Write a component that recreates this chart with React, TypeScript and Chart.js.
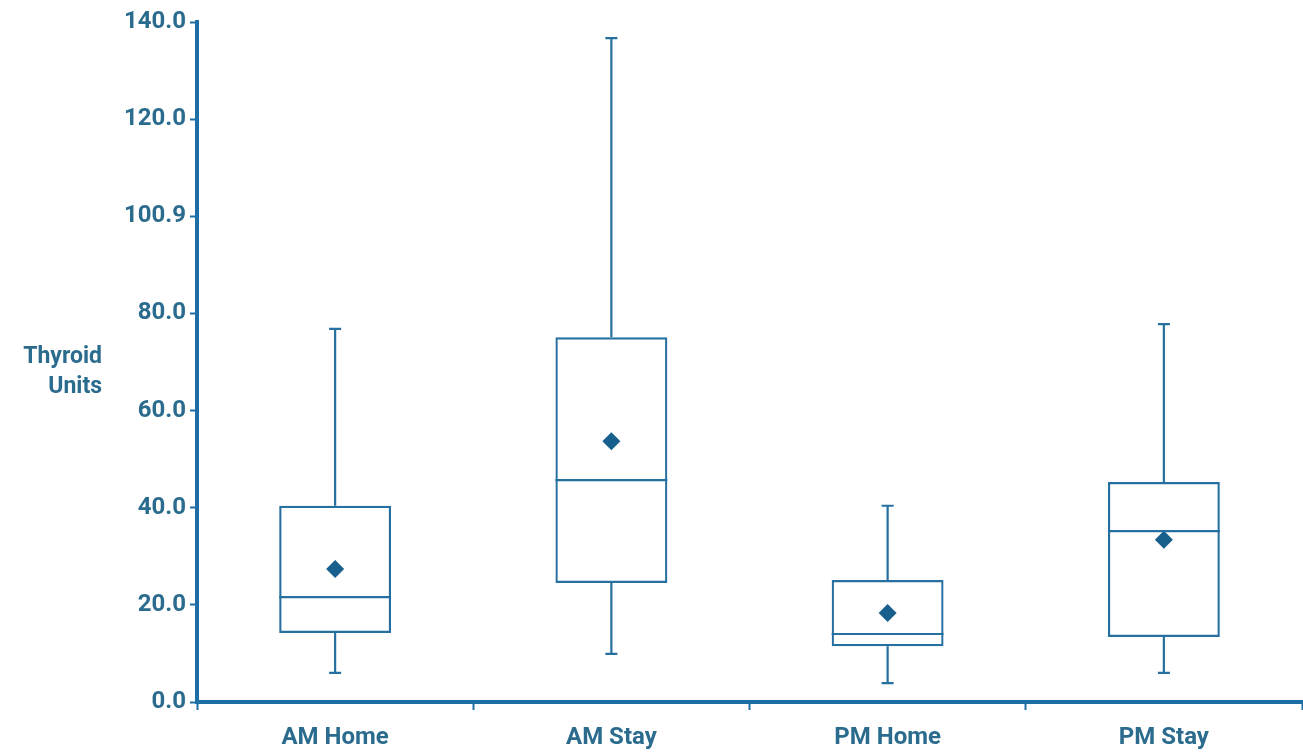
import React, { useEffect, useRef } from "react";
import { Chart, registerables } from "chart.js";

Chart.register(...registerables);

const categories = ["AM Home", "AM Stay", "PM Home", "PM Stay"];
const whiskerMin = [6.0, 9.9, 3.9, 6.0];
const q1 = [14.2, 24.5, 11.5, 13.4];
const median = [21.6, 45.7, 14.0, 35.2];
const q3 = [40.4, 75.1, 25.1, 45.3];
const whiskerMax = [76.8, 136.7, 40.4, 77.8];
const means = [27.4, 53.7, 18.3, 33.4];
const yTickLabels = ["0.0", "20.0", "40.0", "60.0", "80.0", "100.9", "120.0", "140.0"];
const yTitleLines = ["Thyroid", "Units"];

const AXIS = "#1c6ea4";
const BOX = "#2570a0";
const TEXT = "#2b6c8e";
const MEAN = "#175f8c";
const FONT = "Roboto, 'Liberation Sans', sans-serif";

const boxExtras = {
  id: "boxExtras",
  afterDatasetsDraw(chart: any) {
    const ctx = chart.ctx;
    const y = chart.scales.y;
    const meta = chart.getDatasetMeta(0);
    ctx.save();
    ctx.strokeStyle = BOX;
    ctx.lineWidth = 2.2;
    meta.data.forEach((bar: any, i: number) => {
      const x = bar.x;
      const half = bar.width / 2;
      const cap = 6;
      const yMed = y.getPixelForValue(median[i]);
      const yQ1 = y.getPixelForValue(q1[i]);
      const yQ3 = y.getPixelForValue(q3[i]);
      const yMin = y.getPixelForValue(whiskerMin[i]);
      const yMax = y.getPixelForValue(whiskerMax[i]);
      ctx.beginPath();
      ctx.moveTo(x - half, yMed);
      ctx.lineTo(x + half, yMed);
      ctx.moveTo(x, yQ3);
      ctx.lineTo(x, yMax);
      ctx.moveTo(x - cap, yMax);
      ctx.lineTo(x + cap, yMax);
      ctx.moveTo(x, yQ1);
      ctx.lineTo(x, yMin);
      ctx.moveTo(x - cap, yMin);
      ctx.lineTo(x + cap, yMin);
      ctx.stroke();
    });
    ctx.restore();
  },
  afterDraw(chart: any) {
    const ctx = chart.ctx;
    const area = chart.chartArea;
    const cy = (area.top + area.bottom) / 2;
    ctx.save();
    ctx.fillStyle = TEXT;
    ctx.font = `bold 23px ${FONT}`;
    ctx.textAlign = "right";
    ctx.textBaseline = "middle";
    ctx.fillText(yTitleLines[0], 102, cy - 5);
    ctx.fillText(yTitleLines[1], 102, cy + 25);
    ctx.restore();
  },
};

const CANVAS_W = 1311;

export default function App() {
  const ref = useRef<HTMLCanvasElement | null>(null);
  useEffect(() => {
    document.body.style.margin = "0";
    document.body.style.overflow = "hidden";
    const chart = new Chart(ref.current as HTMLCanvasElement, {
      type: "bar",
      data: {
        labels: categories,
        datasets: [
          {
            type: "bar",
            data: q1.map((v, i) => [v, q3[i]]) as any,
            backgroundColor: "rgba(0,0,0,0)",
            borderColor: BOX,
            borderWidth: 2.2,
            borderSkipped: false,
            barPercentage: 0.405,
            categoryPercentage: 1,
            order: 2,
          } as any,
          {
            type: "line",
            data: means,
            showLine: false,
            pointStyle: "rectRot",
            pointRadius: 9,
            pointBackgroundColor: MEAN,
            pointBorderColor: MEAN,
            pointBorderWidth: 0,
            order: 1,
          } as any,
        ],
      },
      options: {
        animation: false,
        responsive: false,
        maintainAspectRatio: false,
        layout: { padding: { top: 22, right: 0, left: 0, bottom: 0 } },
        plugins: { legend: { display: false }, tooltip: { enabled: false } },
        scales: {
          x: {
            type: "category",
            offset: true,
            grid: {
              offset: true,
              drawOnChartArea: false,
              drawTicks: true,
              tickLength: 8,
              tickColor: AXIS,
              tickWidth: 2,
            },
            border: { display: true, color: AXIS, width: 4 },
            ticks: {
              color: TEXT,
              font: { family: FONT, size: 24, weight: "bold" },
              padding: 14,
              maxRotation: 0,
            },
            afterFit(scale: any) {
              scale.height = 51;
            },
          },
          y: {
            min: 0,
            max: 140,
            ticks: {
              stepSize: 20,
              color: TEXT,
              font: { family: FONT, size: 24, weight: "bold" },
              padding: 4,
              callback: (_v: any, i: number) => yTickLabels[i],
            },
            grid: {
              drawOnChartArea: false,
              drawTicks: true,
              tickLength: 7,
              tickColor: AXIS,
              tickWidth: 2,
            },
            border: { display: true, color: AXIS, width: 4 },
            afterFit(scale: any) {
              scale.width = 197;
            },
          },
        },
      },
      plugins: [boxExtras],
    } as any);
    return () => chart.destroy();
  }, []);
  return (
    <div style={{ position: "relative", width: 1303, height: 753, overflow: "hidden", background: "#fff" }}>
      <canvas ref={ref} width={CANVAS_W} height={753} style={{ width: CANVAS_W, height: 753, display: "block" }} />
    </div>
  );
}
